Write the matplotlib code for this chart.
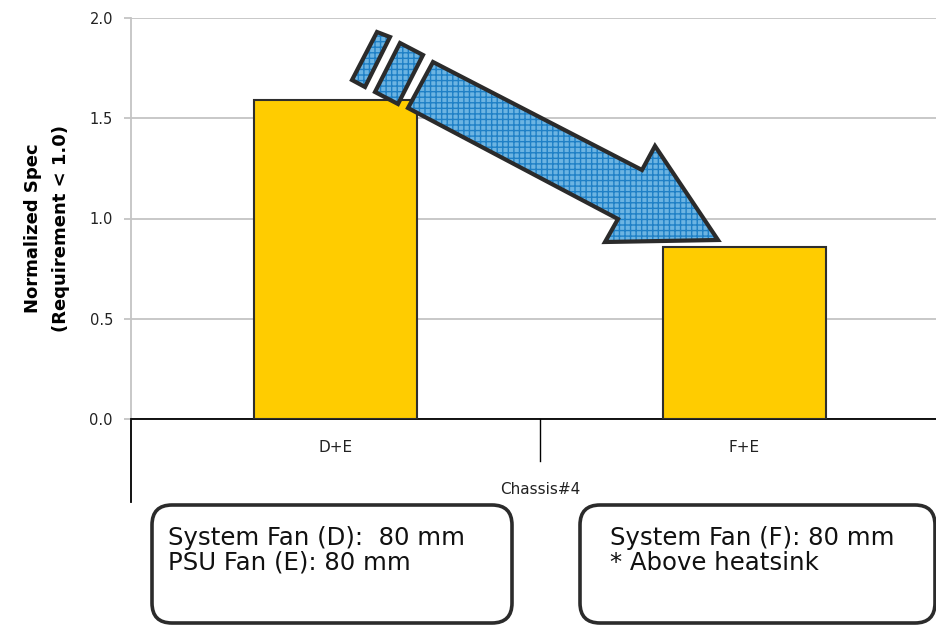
import matplotlib
matplotlib.use("Agg")
import matplotlib.pyplot as plt
from matplotlib.patches import Polygon, FancyBboxPatch
from matplotlib.transforms import Affine2D

# ---- data -------------------------------------------------------------
categories = ["D+E", "F+E"]
values = [1.59, 0.86]
group_label = "Chassis#4"
y_ticks = [0.0, 0.5, 1.0, 1.5, 2.0]
y_tick_labels = ["0.0", "0.5", "1.0", "1.5", "2.0"]
y_label = "Normalized Spec\n(Requirement < 1.0)"
box_left_text = "System Fan (D):  80 mm\nPSU Fan (E): 80 mm"
box_right_text = "System Fan (F): 80 mm\n* Above heatsink"

W, H, DPI = 937, 627, 100
plt.rcParams["font.family"] = ["DejaVu Sans"]
plt.rcParams["hatch.linewidth"] = 1.0

fig = plt.figure(figsize=(W / DPI, H / DPI), dpi=DPI)
fig.patch.set_facecolor("white")

# pixel (y down) -> display transform for annotations
px = Affine2D().scale(1, -1).translate(0, H).scale(1 / DPI) + fig.dpi_scale_trans

# axes occupy the plotting region; the category band runs off the right edge
left, top, bottom = 131, 18, 419
ax = fig.add_axes([left / W, (H - bottom) / H, (W - left) / W, (bottom - top) / H])
band = 409.0  # width of one category in pixels
ax.set_xlim(-0.5, -0.5 + (W - left) / band)
ax.set_ylim(0, 2.0)

grid_c = "#c4c4c4"
ax.set_yticks(y_ticks)
ax.set_yticklabels(y_tick_labels)
ax.yaxis.grid(True, color=grid_c, linewidth=1.3)
ax.set_axisbelow(True)
ax.tick_params(axis="y", length=5, width=1.3, color=grid_c, pad=8,
               labelsize=10.5, labelcolor="#222222")
ax.tick_params(axis="x", length=0, labelbottom=False)
for s in ("top", "right"):
    ax.spines[s].set_visible(False)
ax.spines["left"].set_color(grid_c)
ax.spines["left"].set_linewidth(1.3)
ax.spines["bottom"].set_color("black")
ax.spines["bottom"].set_linewidth(1.3)

x = list(range(len(categories)))
ax.bar(x, values, width=0.4, color="#ffcc00", edgecolor="#2e2e2e",
       linewidth=1.5, zorder=3)

# category axis below the plot
ax.plot([-0.5, -0.5], [0, -0.207], transform=ax.get_xaxis_transform(),
        color="black", lw=1.3, clip_on=False)
ax.plot([0.5, 0.5], [0, -0.105], transform=ax.get_xaxis_transform(),
        color="black", lw=1.0, clip_on=False)
for xi, cat in zip(x, categories):
    ax.text(xi, -0.072, cat, transform=ax.get_xaxis_transform(),
            ha="center", va="center", fontsize=11, color="#222222")
ax.text(0.5, -0.177, group_label, transform=ax.get_xaxis_transform(),
        ha="center", va="center", fontsize=11, color="#222222")

fig.text(47 / W, 1 - 228 / H, y_label, rotation=90, ha="center", va="center",
         fontsize=13, fontweight="bold", linespacing=1.75, multialignment="center")

# downward arrow with two trailing bars
arrow_shapes = [
    [(433, 62), (642, 170), (655, 146), (718, 240), (605, 242), (618, 219), (408, 108)],
    [(400, 43), (423, 55), (398, 104), (375, 92)],
    [(377, 32), (390, 37), (365, 87), (352, 80)],
]
for pts in arrow_shapes:
    fig.add_artist(Polygon(pts, closed=True, transform=px, facecolor="#6cb4e2",
                           edgecolor="#1f80c6", hatch="+++", linewidth=0, zorder=5))
    fig.add_artist(Polygon(pts, closed=True, transform=px, fill=False,
                           edgecolor="#2b2b2b", linewidth=3.0, joinstyle="miter",
                           zorder=6))

# note boxes
for (x0, x1), txt, tx in [((152, 512), box_left_text, 168),
                          ((580, 935), box_right_text, 610)]:
    y0, y1 = 505, 623
    fig.add_artist(FancyBboxPatch((x0, H - y1), x1 - x0, y1 - y0,
                                  boxstyle="round,pad=0,rounding_size=20",
                                  transform=Affine2D().scale(1 / DPI) + fig.dpi_scale_trans,
                                  facecolor="white", edgecolor="#2b2b2b",
                                  linewidth=2.6, zorder=5))
    fig.text(tx / W, 1 - 526 / H, txt, ha="left", va="top", fontsize=17.6,
             linespacing=1.05, color="#111111", zorder=6)

fig.savefig("out.png", dpi=DPI)
